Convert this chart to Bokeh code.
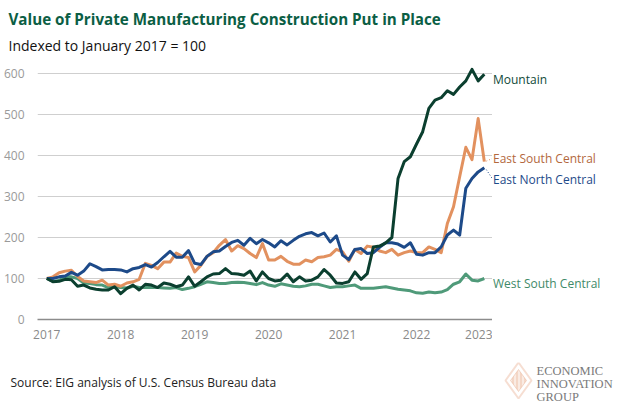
from bokeh.plotting import figure
from bokeh.models import Label, Range1d, FixedTicker, PolyAnnotation
from bokeh.layouts import column, row
from bokeh.embed import file_html
from bokeh.resources import INLINE

# ---------------- data (monthly, Jan 2017 .. Dec 2022, index Jan 2017 = 100) -------------
START_YEAR = 2017
mountain = [100, 92, 93, 98, 97, 81, 84, 77, 74, 72, 72, 80,
            63, 76, 84, 72, 86, 84, 78, 89, 86, 80, 84, 104,
            81, 92, 104, 111, 112, 124, 112, 111, 108, 118, 94, 116,
            100, 94, 96, 111, 92, 104, 94, 96, 104, 122, 108, 89,
            88, 92, 116, 98, 112, 177, 179, 187, 200, 344, 385, 397,
            428, 458, 515, 535, 541, 558, 549, 567, 582, 610, 582, 598]
east_south_central = [100, 104, 114, 118, 120, 105, 94, 92, 90, 96, 84, 86,
                      81, 89, 92, 98, 137, 132, 124, 140, 140, 162, 154, 151,
                      116, 132, 154, 163, 181, 195, 167, 180, 173, 161, 151, 185,
                      145, 145, 154, 142, 135, 135, 145, 141, 151, 153, 157, 171,
                      165, 142, 171, 161, 179, 176, 167, 163, 171, 157, 163, 167,
                      163, 163, 177, 171, 163, 234, 275, 348, 420, 390, 490, 385]
east_north_central = [100, 100, 104, 106, 115, 108, 118, 136, 129, 121, 122, 122,
                      121, 116, 124, 127, 134, 128, 139, 153, 166, 152, 152, 168,
                      137, 134, 154, 165, 167, 178, 188, 193, 181, 198, 185, 195,
                      187, 177, 192, 182, 193, 203, 209, 212, 204, 211, 189, 204,
                      157, 146, 171, 173, 161, 163, 176, 187, 187, 184, 176, 187,
                      159, 157, 163, 163, 177, 206, 218, 206, 320, 344, 360, 370]
west_south_central = [100, 93, 95, 105, 104, 100, 89, 88, 85, 84, 78, 80,
                      78, 77, 81, 78, 78, 78, 78, 77, 76, 78, 73, 76,
                      80, 86, 92, 90, 88, 88, 90, 91, 90, 88, 85, 90,
                      84, 81, 87, 84, 81, 80, 82, 86, 86, 82, 78, 80,
                      80, 82, 84, 76, 76, 76, 78, 80, 77, 74, 72, 70,
                      65, 64, 67, 65, 67, 73, 86, 92, 111, 96, 94, 100]
series_names = ["West South Central", "East South Central", "East North Central", "Mountain"]
x_tick_years = [2017, 2018, 2019, 2020, 2021, 2022, 2023]
y_ticks = [0, 100, 200, 300, 400, 500, 600]

title_text = "Value of Private Manufacturing Construction Put in Place"
subtitle_text = "Indexed to January 2017 = 100"
source_text = "Source: EIG analysis of U.S. Census Bureau data"
logo_lines = ["ECONOMIC", "INNOVATION", "GROUP"]

# ---------------- layout geometry ----------------
W, H = 623, 411
TOP_H = 62            # title band
MAIN_H = 300          # plot band (frame 257 + x-axis 43)
BOT_H = H - TOP_H - MAIN_H
FL, FR = 35, 492      # frame left/right in px
AXIS_B = 43
FRAME_H = MAIN_H - AXIS_B

n = len(mountain)
xs = [START_YEAR + i / 12 for i in range(n)]
PX_PER_YEAR = 74.28
X0 = START_YEAR - 9.3 / PX_PER_YEAR
X1 = X0 + (FR - FL) / PX_PER_YEAR
PX_PER_UNIT = 0.41
Y1 = FRAME_H / PX_PER_UNIT


def blank(width, height, x_range, y_range):
    f = figure(width=width, height=height, output_backend="svg", toolbar_location=None,
               x_range=x_range, y_range=y_range, x_axis_type=None, y_axis_type=None,
               min_border=0)
    f.outline_line_color = None
    f.xgrid.visible = False
    f.ygrid.visible = False
    f.background_fill_color = "white"
    f.border_fill_color = "white"
    return f


# ---------------- top band: titles ----------------
top = blank(W, TOP_H, Range1d(0, W), Range1d(TOP_H, 0))
top.add_layout(Label(x=8, y=18, text=title_text, text_color="#0b5e44",
                     text_font="Open Sans", text_font_style="bold",
                     text_font_size="15.2px", text_baseline="middle", text_align="left"))
top.add_layout(Label(x=8, y=45, text=subtitle_text, text_color="#111111",
                     text_font="Open Sans", text_font_size="14px",
                     text_baseline="middle", text_align="left"))

# ---------------- main plot ----------------
p = figure(width=FR, height=MAIN_H, output_backend="svg", toolbar_location=None,
           x_range=Range1d(X0, X1), y_range=Range1d(0, Y1),
           min_border_left=FL, min_border_right=0,
           min_border_top=0, min_border_bottom=AXIS_B)
p.outline_line_color = None
p.background_fill_color = "white"
p.border_fill_color = "white"

p.xgrid.visible = False
p.ygrid.grid_line_color = "#cfcfcf"
p.ygrid.grid_line_width = 1
p.ygrid.ticker = FixedTicker(ticks=y_ticks)

p.yaxis.ticker = FixedTicker(ticks=y_ticks)
p.yaxis.axis_line_color = None
p.yaxis.major_tick_line_color = None
p.yaxis.minor_tick_line_color = None
p.yaxis.major_label_text_color = "#9a9a9a"
p.yaxis.major_label_text_font = "Open Sans"
p.yaxis.major_label_text_font_size = "12px"
p.yaxis.major_label_standoff = 7

p.xaxis.ticker = FixedTicker(ticks=x_tick_years)
p.xaxis.major_label_overrides = {y: str(y) for y in x_tick_years}
p.xaxis.axis_line_color = "#8c8c8c"
p.xaxis.axis_line_width = 1.3
p.xaxis.major_tick_line_color = None
p.xaxis.minor_tick_line_color = None
p.xaxis.major_label_text_color = "#8a8a8a"
p.xaxis.major_label_text_font = "Open Sans"
p.xaxis.major_label_text_font_size = "12px"
p.xaxis.major_label_standoff = 4

colors = {
    "Mountain": "#0b3f2f",
    "East South Central": "#e2915f",
    "East North Central": "#1d4a89",
    "West South Central": "#4f9a79",
}
label_colors = {
    "Mountain": "#0f4a39",
    "East South Central": "#b3683d",
    "East North Central": "#1d4a89",
    "West South Central": "#3f8a69",
}
values = {
    "Mountain": mountain,
    "East South Central": east_south_central,
    "East North Central": east_north_central,
    "West South Central": west_south_central,
}
label_dy = {  # px offset of label from line end (positive = up)
    "Mountain": -5,
    "East South Central": 3.5,
    "East North Central": -12,
    "West South Central": -5,
}

for name in series_names:
    p.line(xs, values[name], line_color=colors[name], line_width=3, line_join="round")

# dotted connectors for the two close labels
for name in ["East South Central", "East North Central"]:
    v = values[name][-1]
    dyv = label_dy[name] / PX_PER_UNIT
    p.segment(x0=[xs[-1] + 2 / PX_PER_YEAR], y0=[v + 0.15 * dyv],
              x1=[xs[-1] + 8 / PX_PER_YEAR], y1=[v + 0.9 * dyv],
              line_color=colors[name], line_width=1, line_dash="1 2")

# ---------------- right band: series labels (shares y scale) ----------------
right = blank(W - FR, MAIN_H, Range1d(0, W - FR), p.y_range)
right.min_border_bottom = AXIS_B
for name in series_names:
    right.add_layout(Label(x=0.5, y=values[name][-1], y_offset=label_dy[name],
                           text=name, text_color=label_colors[name], text_font="Open Sans",
                           text_font_size="12px", text_baseline="middle", text_align="left"))

# ---------------- bottom band: source + logo ----------------
bot = blank(W, BOT_H, Range1d(0, W), Range1d(BOT_H, 0))
bot.add_layout(Label(x=10, y=20, text=source_text, text_color="#222222",
                     text_font="Open Sans", text_font_size="12px",
                     text_baseline="middle", text_align="left"))
cx, cy, hw, hh = 518, 18, 13, 18
bot.add_layout(PolyAnnotation(xs=[cx, cx + hw, cx, cx - hw],
                              ys=[cy - hh, cy, cy + hh, cy],
                              fill_color=None, line_color="#e0916a", line_width=2))
bot.add_layout(PolyAnnotation(xs=[cx, cx + 8, cx, cx - 8],
                              ys=[cy - 11, cy, cy + 11, cy],
                              fill_color="#e39a72", line_color="#e0916a", line_width=1,
                              hatch_pattern="vertical_line", hatch_color="white",
                              hatch_scale=4, hatch_weight=1))
for i, t in enumerate(logo_lines):
    bot.add_layout(Label(x=536, y=8 + 13 * i, text=t, text_color="#7a7a7a",
                         text_font="Liberation Serif", text_font_size="12.5px",
                         text_baseline="middle", text_align="left"))

layout = column(top, row(p, right), bot)
open("out.html", "w").write(file_html(layout, INLINE))
